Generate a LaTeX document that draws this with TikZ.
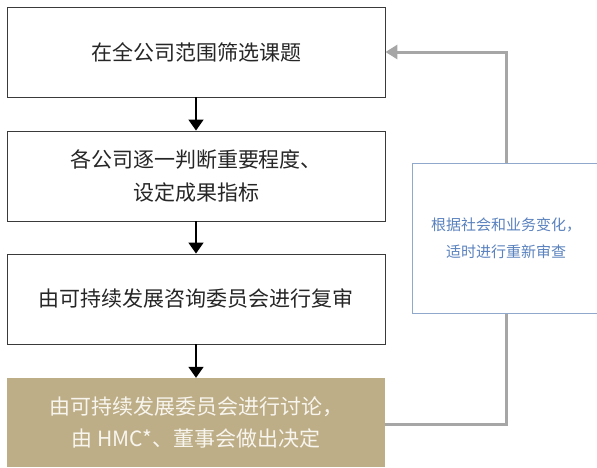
\documentclass[tikz,border=0pt]{standalone}
\usepackage{fontspec}
\setmainfont{Noto Sans CJK SC}
\usetikzlibrary{arrows.meta}
\definecolor{boxline}{HTML}{3A3A3A}
\definecolor{gold}{HTML}{BDAE87}
\definecolor{goldtext}{HTML}{F8F5EE}
\definecolor{bluetext}{HTML}{5A82BE}
\definecolor{blueline}{HTML}{8FA8CC}
\definecolor{grayline}{HTML}{A6A6A6}
\tikzset{
  stepbox/.style={draw=boxline, line width=0.9pt, fill=white, minimum width=378pt, minimum height=90pt, inner sep=0pt, align=center, font=\fontsize{21}{33}\selectfont, text=black!85},
  goldbox/.style={fill=gold, minimum width=378pt, minimum height=89pt, inner sep=0pt, align=center, font=\fontsize{21}{32}\selectfont, text=goldtext},
  notebox/.style={draw=blueline, line width=1pt, fill=white, minimum width=188pt, minimum height=150pt, inner sep=0pt, align=center, font=\fontsize{15}{27}\selectfont, text=bluetext},
  flow/.style={line width=1.8pt, black, -{Triangle[width=15pt,length=11pt]}},
  back/.style={line width=3pt, grayline},
}
\begin{document}
\begin{tikzpicture}[x=1pt,y=-1pt]
\useasboundingbox (0,0) rectangle (597,467);
\node[stepbox] (b1) at (196,52) {在全公司范围筛选课题};
\node[stepbox] (b2) at (196,176) {各公司逐一判断重要程度、\\设定成果指标};
\node[stepbox] (b3) at (196,299) {由可持续发展咨询委员会进行复审};
\node[goldbox] (b4) at (196,422.5) {由可持续发展委员会进行讨论，\\由 HMC*、董事会做出决定};
\node[notebox] (rb) at (506,238) {根据社会和业务变化，\\适时进行重新审查};
\draw[flow] (b1) -- (b2);
\draw[flow] (b2) -- (b3);
\draw[flow] (b3) -- (b4);
\coordinate (c1) at (385,424);
\draw[back] (c1) -| (rb.south);
\draw[back, -{Triangle[width=14pt,length=12pt]}] (rb.north) |- (b1.east);
\end{tikzpicture}
\end{document}
